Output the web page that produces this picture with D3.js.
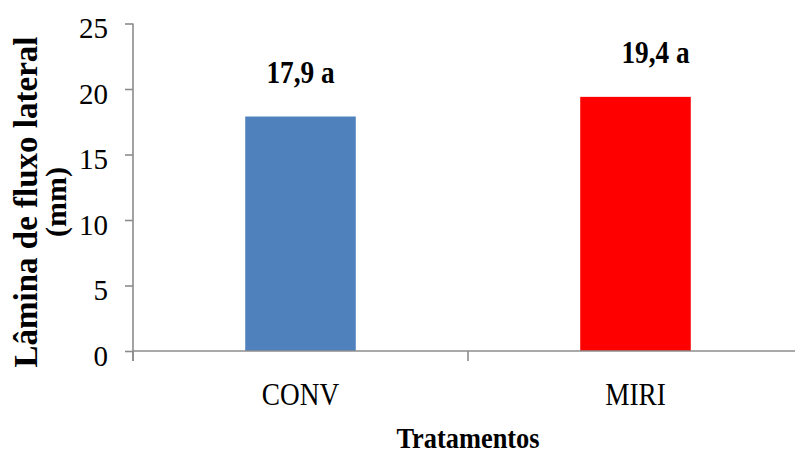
<!DOCTYPE html>
<html>
<head>
<meta charset="utf-8">
<script src="https://cdn.jsdelivr.net/npm/d3@7"></script>
<style>
  html, body { margin: 0; padding: 0; background: #fff; }
  svg text { font-family: "Liberation Serif", "Times New Roman", serif; fill: #000; }
</style>
</head>
<body>
<svg id="chart" width="795" height="454"></svg>
<script>
// Lateral-flow depth per treatment (mm)
const categories = ["CONV", "MIRI"];
const values = [17.9, 19.4];
const significance = ["a", "a"];
const colors = ["#4f81bd", "#ff0000"];
const yTicks = [0, 5, 10, 15, 20, 25];
const yTitle = ["Lâmina de fluxo lateral", "(mm)"];
const xTitle = "Tratamentos";

const svg = d3.select("#chart");
const axisColor = "#8c8c8c";
const squeeze = 0.88;          // narrow serif look for horizontal labels

const plot = { left: 133, right: 803, top: 23.5, bottom: 351 };

const x = d3.scaleBand()
  .domain(categories)
  .range([plot.left, plot.right])
  .padding(0);

const y = d3.scaleLinear()
  .domain([0, 25])
  .range([plot.bottom, plot.top]);

const barWidth = x.bandwidth() * 0.33;

// bars
svg.append("g")
  .selectAll("rect")
  .data(categories)
  .join("rect")
  .attr("x", (d) => x(d) + x.bandwidth() / 2 - barWidth / 2)
  .attr("y", (d, i) => y(values[i]))
  .attr("width", barWidth)
  .attr("height", (d, i) => y(0) - y(values[i]))
  .attr("fill", (d, i) => colors[i]);

// y axis
const yAxis = svg.append("g")
  .attr("transform", `translate(${plot.left},0)`)
  .call(d3.axisLeft(y).tickValues(yTicks).tickSize(8).tickPadding(17).tickFormat(d3.format("d")));
yAxis.select(".domain").attr("stroke", axisColor).attr("stroke-width", 1.6)
  .attr("d", `M0,${plot.top}V${plot.bottom + 10}`);
yAxis.selectAll(".tick line").attr("stroke", axisColor).attr("stroke-width", 1.6);
yAxis.selectAll(".tick text")
  .attr("font-size", 29)
  .attr("dy", null)
  .attr("y", 14)
  .style("font-family", "'Liberation Serif', 'Times New Roman', serif")
  .attr("fill", "#000");

// x axis: category boundary ticks, labels centred in each band
const xAxis = svg.append("g")
  .attr("transform", `translate(0,${plot.bottom})`);
xAxis.append("line")
  .attr("x1", plot.left).attr("x2", plot.right)
  .attr("stroke", axisColor).attr("stroke-width", 1.6);
const boundaries = categories.map((c) => x(c)).concat([x(categories[categories.length - 1]) + x.bandwidth()]);
xAxis.selectAll("line.tick")
  .data(boundaries)
  .join("line")
  .attr("class", "tick")
  .attr("x1", (d) => d).attr("x2", (d) => d)
  .attr("y1", 0).attr("y2", 10)
  .attr("stroke", axisColor).attr("stroke-width", 1.6);

svg.append("g")
  .selectAll("text")
  .data(categories)
  .join("text")
  .attr("transform", (d) => `translate(${x(d) + x.bandwidth() / 2},405) scale(${squeeze},1)`)
  .attr("text-anchor", "middle")
  .attr("font-size", 31)
  .text((d) => d);

// value labels above bars (the MIRI label sits slightly right of its bar)
const labelNudge = { MIRI: 20 };
svg.append("g")
  .selectAll("text")
  .data(categories)
  .join("text")
  .attr("transform", (d, i) =>
    `translate(${x(d) + x.bandwidth() / 2 + (labelNudge[d] || 0)},${y(values[i]) - 34}) scale(${squeeze},1)`)
  .attr("text-anchor", "middle")
  .attr("font-size", 31)
  .attr("font-weight", "bold")
  .text((d, i) => `${d3.format(".1f")(values[i]).replace(".", ",")} ${significance[i]}`);

// axis titles
svg.append("text")
  .attr("transform", `translate(468,448) scale(0.91,1)`)
  .attr("text-anchor", "middle")
  .attr("font-size", 29)
  .attr("font-weight", "bold")
  .text(xTitle);

const yTitleG = svg.append("g").attr("transform", "translate(0,202) rotate(-90)");
yTitleG.append("text")
  .attr("x", 0).attr("y", 37)
  .attr("text-anchor", "middle")
  .attr("font-size", 33)
  .attr("font-weight", "bold")
  .text(yTitle[0]);
yTitleG.append("text")
  .attr("x", 0).attr("y", 66)
  .attr("text-anchor", "middle")
  .attr("font-size", 30)
  .attr("font-weight", "bold")
  .text(yTitle[1]);
</script>
</body>
</html>
